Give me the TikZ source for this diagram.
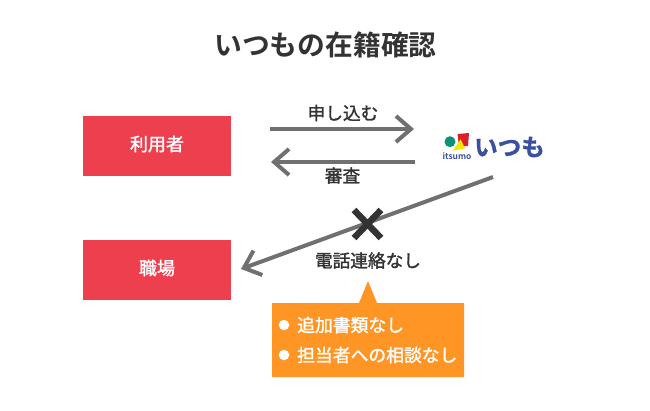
\documentclass[tikz,border=0pt]{standalone}
\usepackage{fontspec}
\usetikzlibrary{arrows.meta}
\setmainfont{Noto Sans CJK JP}[BoldFont={Noto Sans CJK JP Bold}]
\newfontfamily\jpbold{Noto Sans CJK JP Bold}
\newfontfamily\jpheavy{Noto Sans CJK JP Bold}[FakeBold=1.5]
\newfontfamily\jpmed{Noto Sans CJK JP}[FakeBold=1.6]
\definecolor{ink}{HTML}{333333}
\definecolor{arrowgrey}{HTML}{707070}
\definecolor{boxred}{HTML}{EE3F4E}
\definecolor{boxorange}{HTML}{FF9524}
\definecolor{logoblue}{HTML}{3B4FA0}
\definecolor{logogreen}{HTML}{0E8F78}
\definecolor{logored}{HTML}{D9202E}
\definecolor{logoyellow}{HTML}{F6E800}
\tikzset{
  x=1pt,y=-1pt,
  redbox/.style={fill=boxred,minimum width=148pt,minimum height=60pt,inner sep=0pt},
  redlabel/.style={text=white,inner sep=0pt,font=\jpmed\fontsize{18}{20}\selectfont},
  lbl/.style={text=ink,inner sep=0pt,font=\jpmed\fontsize{17.7}{20}\selectfont},
  flow/.style={draw=arrowgrey,line width=4pt,-{Straight Barb[length=15pt,width=26pt,line width=4pt]}},
  bullettext/.style={text=white,inner sep=0pt,anchor=west,font=\jpmed\fontsize{17.8}{20}\selectfont},
  dot/.style={circle,fill=white,inner sep=0pt,minimum size=10.5pt},
}
\begin{document}
\begin{tikzpicture}
\useasboundingbox (0,0) rectangle (650,410);
\node[text=ink,inner sep=0pt,font=\jpbold\fontsize{27.8}{30}\selectfont] (title) at (325.5,45) {いつもの在籍確認};
\node[redbox] (user) at (157,146) {};
\node[redbox] (work) at (157,270) {};
\node[redlabel] (userl) at (157,144) {利用者};
\node[redlabel] (workl) at (157,268) {職場};
% logo
\fill[logogreen] (450,141.7) circle (5.5) coordinate (logoc);
\fill[logored] (457.5,134) -- (469,133) -- (468,146) -- (459,146.5) -- cycle;
\fill[logoyellow] (460.7,139.3) -- (465,148.5) -- (452.7,150.7) -- cycle;
\node[text=logoblue,inner sep=0pt,font=\jpbold\fontsize{8.4}{9}\selectfont] (logosub) at (457,156) {itsumo};
\node[text=logoblue,inner sep=0pt,font=\jpheavy\fontsize{23.5}{25}\selectfont] (logo) at (509.5,147) {いつも};
% connectors
\coordinate (a1s) at (270,129); \coordinate (a1e) at (414,129);
\coordinate (a2s) at (415,162); \coordinate (a2e) at (271,162);
\coordinate (a3s) at (493,177); \coordinate (a3e) at (241,269);
\draw[flow] (a1s) -- (a1e);
\draw[flow] (a2s) -- (a2e);
\draw[flow] (a3s) -- (a3e);
\node[lbl] (apply) at (343,113) {申し込む};
\node[lbl] (review) at (342.5,175.5) {審査};
\node[lbl] (nocall) at (368,260.5) {電話連絡なし};
\coordinate (xa) at (354,210); \coordinate (xb) at (381,238);
\coordinate (xc) at (381,210); \coordinate (xd) at (354,238);
\draw[ink,line width=6.5pt] (xa) -- (xb) (xc) -- (xd);
% callout
\fill[boxorange] (272,303) -- (359,303) -- (368,281) -- (377,303) -- (464,303) -- (464,377) -- (272,377) -- cycle;
\node[dot] (d1) at (284,325) {};
\node[dot] (d2) at (284,355) {};
\node[bullettext] (t1) at (297,325) {追加書類なし};
\node[bullettext] (t2) at (297,355) {担当者への相談なし};
\end{tikzpicture}
\end{document}
